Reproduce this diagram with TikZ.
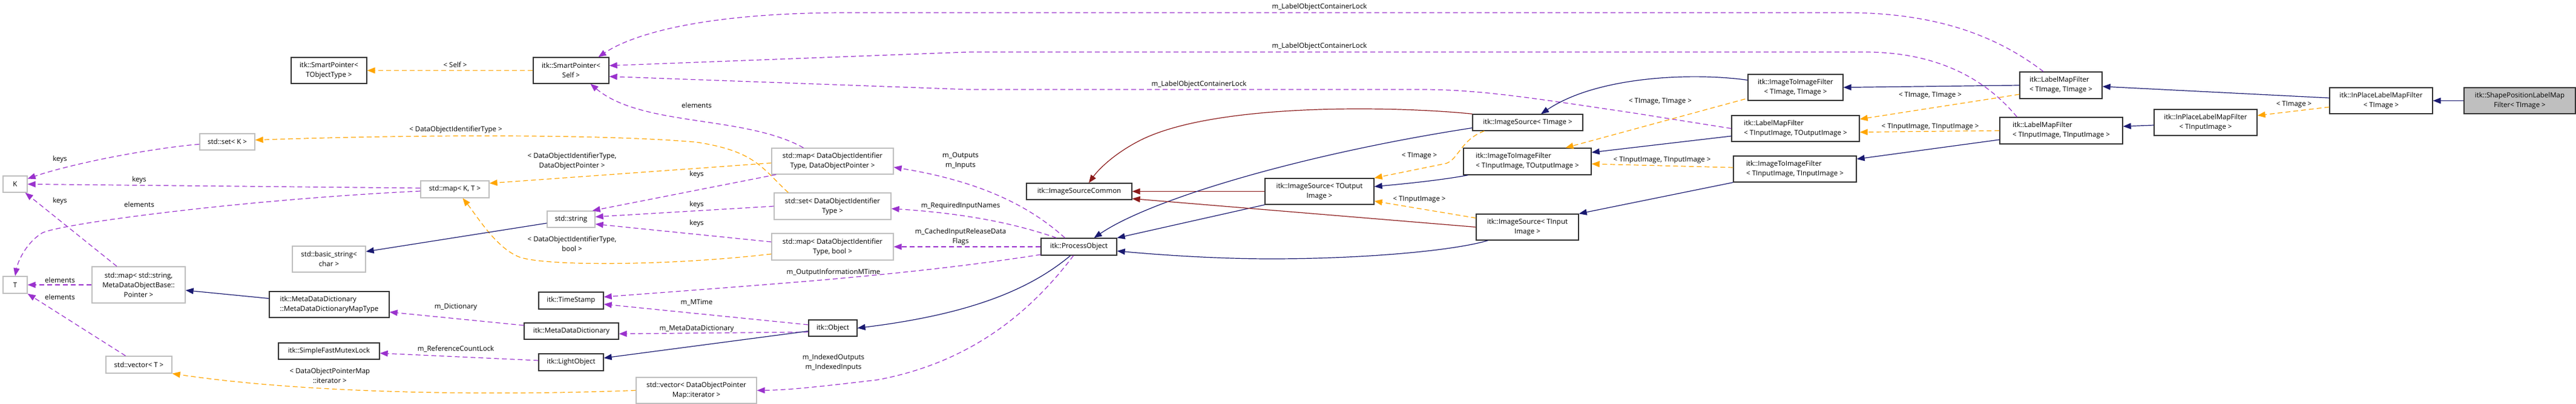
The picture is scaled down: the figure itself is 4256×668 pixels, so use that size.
\documentclass[tikz,border=0pt]{standalone}
\usepackage{fontspec}
\setmainfont{Open Sans}
\usetikzlibrary{arrows.meta,calc}
\definecolor{navy}{HTML}{191970}
\definecolor{orng}{HTML}{FFA500}
\definecolor{purp}{HTML}{9A32CD}
\definecolor{redd}{HTML}{8B1A1A}
\begin{document}
\begin{tikzpicture}[x=1pt,y=-1pt,
  font=\fontsize{11.5}{16}\selectfont,
  box/.style={draw,line width=1.3pt,inner sep=1pt,align=center,fill=white},
  itk/.style={box,draw=black!80},
  std/.style={box,draw=black!25},
  bw/.style 2 args={minimum width=#1pt,minimum height=#2pt},
  tip/.style={-{Triangle[length=13pt,width=10pt]}},
  inh/.style={tip,draw=navy,line width=1.2pt},
  rel/.style={tip,draw=redd,line width=1.2pt},
  use/.style={tip,draw=purp,line width=1.2pt,dash pattern=on 8pt off 5pt},
  tmp/.style={tip,draw=orng,line width=1.2pt,dash pattern=on 8pt off 5pt},
  lab/.style={inner sep=0pt,align=center}]
\useasboundingbox (0,0) rectangle (4256,668);
% nodes
\node[itk,bw={125}{43}] (tot) at (543.5,116.5) {itk::SmartPointer<\\TObjectType >};
\node[itk,bw={125}{43}] (sps) at (943.5,116.5) {itk::SmartPointer<\\Self >};
\node[std,bw={91}{27}] (setK) at (375.5,234.5) {std::set< K >};
\node[std,bw={40}{27}] (K) at (25,304.5) {K};
\node[std,bw={40}{28}] (T) at (25,471) {T};
\node[std,bw={154}{60}] (mapSM) at (229,471) {std::map< std::string,\\MetaDataObjectBase::\\Pointer >};
\node[std,bw={121}{43}] (bstr) at (543.5,428.5) {std::basic\_string<\\char >};
\node[itk,bw={198}{43},align=left] (mdmt) at (544,503.5) {itk::MetaDataDictionary\\::MetaDataDictionaryMapType};
\node[itk,bw={167}{27}] (sfml) at (543.5,580.5) {itk::SimpleFastMutexLock};
\node[std,bw={109}{28}] (vecT) at (229.5,603) {std::vector< T >};
\node[std,bw={113}{28}] (mapKT) at (751.5,313) {std::map< K, T >};
\node[std,bw={79}{27}] (str) at (943.5,362.5) {std::string};
\node[itk,bw={107}{28}] (ts) at (943.5,497) {itk::TimeStamp};
\node[itk,bw={156}{27}] (mdd) at (944,547.5) {itk::MetaDataDictionary};
\node[itk,bw={107}{28}] (lo) at (943.5,599) {itk::LightObject};
\node[std,bw={201}{43}] (mapDOP) at (1375.5,266.5) {std::map< DataObjectIdentifier\\Type, DataObjectPointer >};
\node[std,bw={193}{44}] (setDOI) at (1375.5,341) {std::set< DataObjectIdentifier\\Type >};
\node[std,bw={201}{44}] (mapB) at (1375.5,408) {std::map< DataObjectIdentifier\\Type, bool >};
\node[itk,bw={80}{27}] (obj) at (1376,542.5) {itk::Object};
\node[std,bw={199}{43}] (vecI) at (1150.5,645.5) {std::vector< DataObjectPointer\\Map::iterator >};
\node[itk,bw={174}{27}] (isc) at (1783,316.5) {itk::ImageSourceCommon};
\node[itk,bw={125}{28}] (po) at (1782.5,408) {itk::ProcessObject};
\node[itk,bw={180}{43}] (isTO) at (2180,316.5) {itk::ImageSource< TOutput\\Image >};
\node[itk,bw={182}{27}] (isTI) at (2524,202.5) {itk::ImageSource< TImage >};
\node[itk,bw={211}{44},align=left] (itiIO) at (2523.5,267) {itk::ImageToImageFilter\\< TInputImage, TOutputImage >};
\node[itk,bw={169}{43}] (isIn) at (2523.5,375.5) {itk::ImageSource< TInput\\Image >};
\node[itk,bw={157}{43}] (itiTT) at (2966.5,144.5) {itk::ImageToImageFilter\\< TImage, TImage >};
\node[itk,bw={211}{43},align=left] (lmfIO) at (2966.5,212.5) {itk::LabelMapFilter\\< TInputImage, TOutputImage >};
\node[itk,bw={203}{43},align=left] (itiII) at (2965.5,279.5) {itk::ImageToImageFilter\\< TInputImage, TInputImage >};
\node[itk,bw={136}{44},align=left] (lmfTT) at (3405,141) {itk::LabelMapFilter\\< TImage, TImage >};
\node[itk,bw={203}{44},align=left] (lmfII) at (3405.5,216) {itk::LabelMapFilter\\< TInputImage, TInputImage >};
\node[itk,bw={170}{43}] (iplIn) at (3644,202.5) {itk::InPlaceLabelMapFilter\\< TInputImage >};
\node[itk,bw={170}{43}] (iplT) at (3934,166.5) {itk::InPlaceLabelMapFilter\\< TImage >};
\node[itk,bw={184}{43},fill=black!25] (spl) at (4163,166.5) {itk::ShapePositionLabelMap\\Filter< TImage >};
% edges
\draw[tmp] (sps.west) -- (tot.east);
\draw[use] ($(lmfTT.north)+(-29,0)$) .. controls (3300,60) and (3200,21) .. (3050,21) -- (1400,21) .. controls (1150,21) and (1040,60) .. ($(sps.north)+(45,0)$);
\draw[use] ($(lmfII.north west)+(29,0)$) .. controls (3280,130) and (3200,86) .. (3080,86) -- (1600,86) -- ($(sps.east)+(0,-8)$);
\draw[use] (lmfIO.west) -- (2700,187) .. controls (2550,165) and (2450,148) .. (2350,148) -- (1600,148) -- ($(sps.east)+(0,10)$);
\draw[use] ($(mapDOP.north)+(-48,0)$) .. controls (1230,190) and (1060,210) .. ($(sps.south)+(32,0)$);
\draw[use] ($(setK.west)+(0,4)$) .. controls (250,245) and (120,270) .. ($(K.east)+(0,-9)$);
\draw[use] ($(mapKT.west)+(0,-2)$) -- (K.east);
\draw[use] ($(mapKT.west)+(0,3)$) .. controls (400,330) and (100,370) .. (70,385) .. controls (45,400) and (30,430) .. (T.north);
\draw[use] ($(mapSM.north)+(-36,0)$) -- ($(K.south east)+(-4,0)$);
\draw[use] (mapSM.west) -- (T.east);
\draw[use] ($(vecT.north)+(-22,0)$) -- (T.south east);
\draw[tmp] ($(setDOI.north west)+(24,0)$) .. controls (1260,280) and (1250,250) .. (1150,235) .. controls (1000,222) and (700,222) .. ($(setK.east)+(0,-3)$);
\draw[tmp] ($(mapDOP.west)+(0,3)$) -- ($(mapKT.east)+(0,-10)$);
\draw[tmp] ($(mapB.west)+(0,12)$) .. controls (1100,440) and (900,440) .. (858,425) .. controls (820,410) and (790,360) .. ($(mapKT.south)+(13,0)$);
\draw[inh] ($(str.west)+(0,6.5)$) -- ($(bstr.east)+(0,-12.5)$);
\draw[use] ($(mapDOP.south west)+(8,0)$) -- ($(str.north east)+(-5,0)$);
\draw[use] (setDOI.west) -- ($(str.east)+(0,-4)$);
\draw[use] ($(mapB.west)+(0,-8)$) -- ($(str.east)+(0,8)$);
\draw[inh] ($(mdmt.west)+(0,-10)$) -- ($(mapSM.east)+(0,9)$);
\draw[use] ($(mdd.west)+(0,-9.5)$) -- ($(mdmt.east)+(0,12.5)$);
\draw[use] ($(lo.west)+(0,-3)$) -- ($(sfml.east)+(0,3.5)$);
\draw[tmp] (vecI.west) .. controls (800,655) and (500,650) .. (vecT.south east);
\draw[use] ($(obj.west)+(0,-5.5)$) -- ($(ts.east)+(0,6)$);
\draw[use] ($(obj.west)+(0,6.5)$) -- ($(mdd.east)+(0,4.5)$);
\draw[inh] ($(obj.west)+(0,5)$) -- ($(lo.east)+(0,-7)$);
\draw[inh] ($(po.south)+(-14,0)$) .. controls (1700,480) and (1600,520) .. (obj.east);
\draw[use] ($(po.west)+(0,13)$) .. controls (1500,455) and (1300,468) .. ($(ts.east)+(0,-6)$);
\draw[use] ($(po.south)+(-9,0)$) .. controls (1700,520) and (1600,600) .. (1450,628) .. controls (1350,640) and (1300,645) .. (vecI.east);
\draw[use] ($(po.north)+(-23,0)$) .. controls (1700,340) and (1620,300) .. ($(mapDOP.east)+(0,10)$);
\draw[use] ($(po.north)+(-37,0)$) .. controls (1650,360) and (1550,350) .. ($(setDOI.east)+(0,4)$);
\draw[use] (po.west) -- (mapB.east);
\draw[inh] (isTO.south west) -- (po.north east);
\draw[rel] (isTO.west) -- (isc.east);
\draw[rel] (isTI.north west) .. controls (2300,175) and (2000,170) .. (1880,234) .. controls (1840,255) and (1815,280) .. ($(isc.north)+(16,0)$);
\draw[inh] ($(isTI.west)+(0,9)$) .. controls (2150,255) and (1900,330) .. ($(po.north)+(25,0)$);
\draw[rel] (isIn.west) -- ($(isc.east)+(0,12)$);
\draw[inh] ($(isIn.south west)+(20,0)$) .. controls (2400,415) and (2250,428) .. (2100,428) .. controls (2000,428) and (1900,420) .. ($(po.east)+(0,7)$);
\draw[tmp] ($(isTI.south west)+(20,0)$) .. controls (2415,230) and (2410,262) .. (2390,270) -- (isTO.north east);
\draw[inh] ($(itiIO.south west)+(8,0)$) .. controls (2380,298) and (2320,304) .. ($(isTO.east)+(0,-8)$);
\draw[tmp] ($(isIn.west)+(0,-15)$) -- ($(isTO.east)+(0,16)$);
\draw[inh] ($(itiTT.west)+(0,-12)$) .. controls (2800,120) and (2640,125) .. ($(isTI.north)+(22,0)$);
\draw[tmp] ($(itiTT.south west)+(-4,-3)$) -- ($(itiIO.north)+(63,0)$);
\draw[inh] ($(lmfIO.west)+(0,12.5)$) -- ($(itiIO.east)+(0,-15)$);
\draw[tmp] ($(itiII.west)+(0,-2.5)$) -- ($(itiIO.east)+(0,4)$);
\draw[inh] (itiII.south west) -- (isIn.north east);
\draw[inh] (lmfTT.west) -- (itiTT.east);
\draw[tmp] ($(lmfTT.west)+(0,15)$) -- ($(lmfIO.east)+(0,-15.5)$);
\draw[tmp] (lmfII.west) -- ($(lmfIO.east)+(0,6)$);
\draw[inh] ($(lmfII.west)+(0,15)$) -- ($(itiII.east)+(0,-16.5)$);
\draw[inh] ($(iplIn.west)+(0,4.5)$) -- ($(lmfII.east)+(0,-7)$);
\draw[inh] ($(iplT.west)+(0,-4.5)$) -- ($(lmfTT.east)+(0,2)$);
\draw[tmp] ($(iplT.west)+(0,10.5)$) -- ($(iplIn.east)+(0,-11.5)$);
\draw[inh] (spl.west) -- (iplT.east);
% labels
\node[lab] (l1) at (752,107) {< Self >};
\node[lab] (l2) at (2180,12) {m\_LabelObjectContainerLock};
\node[lab] (l3) at (2180,77) {m\_LabelObjectContainerLock};
\node[lab] (l4) at (1981,140) {m\_LabelObjectContainerLock};
\node[lab] (l5) at (1151,174) {elements};
\node[lab] (l6) at (99,264) {keys};
\node[lab] (l7) at (230,298) {keys};
\node[lab] (l8) at (230,338) {elements};
\node[lab] (l9) at (99,333) {keys};
\node[lab] (l10) at (99,463) {elements};
\node[lab] (l11) at (99,491) {elements};
\node[lab] (l12) at (753,214) {< DataObjectIdentifierType >};
\node[lab] (l13) at (945,266) {< DataObjectIdentifierType,\\DataObjectPointer >};
\node[lab] (l14) at (945,403) {< DataObjectIdentifierType,\\bool >};
\node[lab] (l15) at (1151,289) {keys};
\node[lab] (l16) at (1151,339) {keys};
\node[lab] (l17) at (1151,370) {keys};
\node[lab] (l18) at (753,508) {m\_Dictionary};
\node[lab] (l19) at (753,577) {m\_ReferenceCountLock};
\node[lab] (l20) at (545,621) {< DataObjectPointerMap\\::iterator >};
\node[lab] (l21) at (1151,500) {m\_MTime};
\node[lab] (l22) at (1151,544) {m\_MetaDataDictionary};
\node[lab] (l23) at (1377,450) {m\_OutputInformationMTime};
\node[lab] (l24) at (1377,600) {m\_IndexedOutputs\\m\_IndexedInputs};
\node[lab] (l25) at (1587,266) {m\_Outputs\\m\_Inputs};
\node[lab] (l26) at (1587,341) {m\_RequiredInputNames};
\node[lab] (l27) at (1587,392) {m\_CachedInputReleaseData\\Flags};
\node[lab] (l28) at (2345,258) {< TImage >};
\node[lab] (l29) at (2345,330) {< TInputImage >};
\node[lab] (l30) at (2743,168) {< TImage, TImage >};
\node[lab] (l31) at (2746,265) {< TInputImage, TInputImage >};
\node[lab] (l32) at (3189,158) {< TImage, TImage >};
\node[lab] (l33) at (3189,210) {< TInputImage, TInputImage >};
\node[lab] (l34) at (3790,173) {< TImage >};
\end{tikzpicture}
\end{document}
